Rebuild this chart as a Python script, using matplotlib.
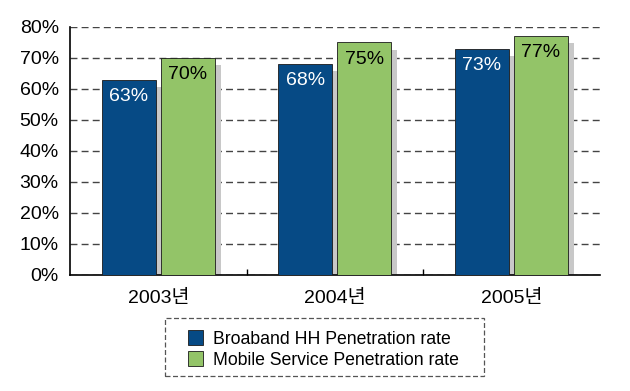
import numpy as np
import matplotlib
matplotlib.use('Agg')
import matplotlib.pyplot as plt
from matplotlib.patches import Rectangle

plt.rcParams['font.family'] = ['Liberation Sans', 'Noto Sans CJK KR', 'DejaVu Sans']

years = ['2003년', '2004년', '2005년']
broadband = [63, 68, 73]
mobile = [70, 75, 77]
series_names = ['Broaband HH Penetration rate', 'Mobile Service Penetration rate']

blue = '#064A85'
green = '#93C468'
shadow = '#C8C8C8'
fs = 14

fig = plt.figure(figsize=(6.3, 3.91), dpi=100)
ax = fig.add_axes([0.111, 0.297, 0.841, 0.634])

x = np.arange(len(years))
w = 0.305
off = 0.167
dx = 0.034   # shadow shift right
dy = 2.3     # shadow shift down (in %)

# drop shadows
ax.bar(x - off + dx, np.array(broadband) - dy, w, color=shadow, zorder=2)
ax.bar(x + off + dx, np.array(mobile) - dy, w, color=shadow, zorder=2)

b1 = ax.bar(x - off, broadband, w, color=blue, edgecolor='#1a1a1a', linewidth=0.6,
            zorder=3, label=series_names[0])
b2 = ax.bar(x + off, mobile, w, color=green, edgecolor='#1a1a1a', linewidth=0.6,
            zorder=3, label=series_names[1])

for xi, v in zip(x, broadband):
    ax.text(xi - off, v - 2.6, f'{v}%', ha='center', va='top', color='white',
            fontsize=fs, zorder=4)
for xi, v in zip(x, mobile):
    ax.text(xi + off, v - 2.6, f'{v}%', ha='center', va='top', color='black',
            fontsize=fs, zorder=4)

ax.set_xlim(-0.5, 2.5)
ax.set_ylim(0, 80)
ax.set_yticks(np.arange(0, 81, 10))
ax.set_yticklabels([f'{t}%' for t in range(0, 81, 10)], fontsize=fs)
ax.set_xticks(x)
ax.set_xticklabels(years, fontsize=fs)
ax.set_xticks([0.5, 1.5], minor=True)
ax.tick_params(axis='x', which='major', length=0, pad=11)
ax.tick_params(axis='x', which='minor', length=4, direction='in', width=1)
ax.tick_params(axis='y', length=0, pad=8)

ax.yaxis.grid(True, linestyle=(0, (5, 3)), color='#444444', linewidth=1, zorder=1)
ax.set_axisbelow(True)
ax.spines['top'].set_visible(False)
ax.spines['right'].set_visible(False)
ax.spines['left'].set_linewidth(1.2)
ax.spines['bottom'].set_linewidth(1.2)

# legend entries without frame, dashed box drawn separately
leg = fig.legend(handles=[b1, b2], loc='upper left', bbox_to_anchor=(0.298, 0.155),
                 fontsize=12.7, frameon=False, handlelength=0.86,
                 handleheight=0.86, handletextpad=0.6, borderpad=0,
                 labelspacing=0.22, borderaxespad=0)
box = Rectangle((0.262, 0.0384), 0.506, 0.148, transform=fig.transFigure,
                fill=False, edgecolor='#555555', linewidth=0.9,
                linestyle=(0, (4, 2)))
fig.add_artist(box)

fig.savefig('out.png', dpi=100)
